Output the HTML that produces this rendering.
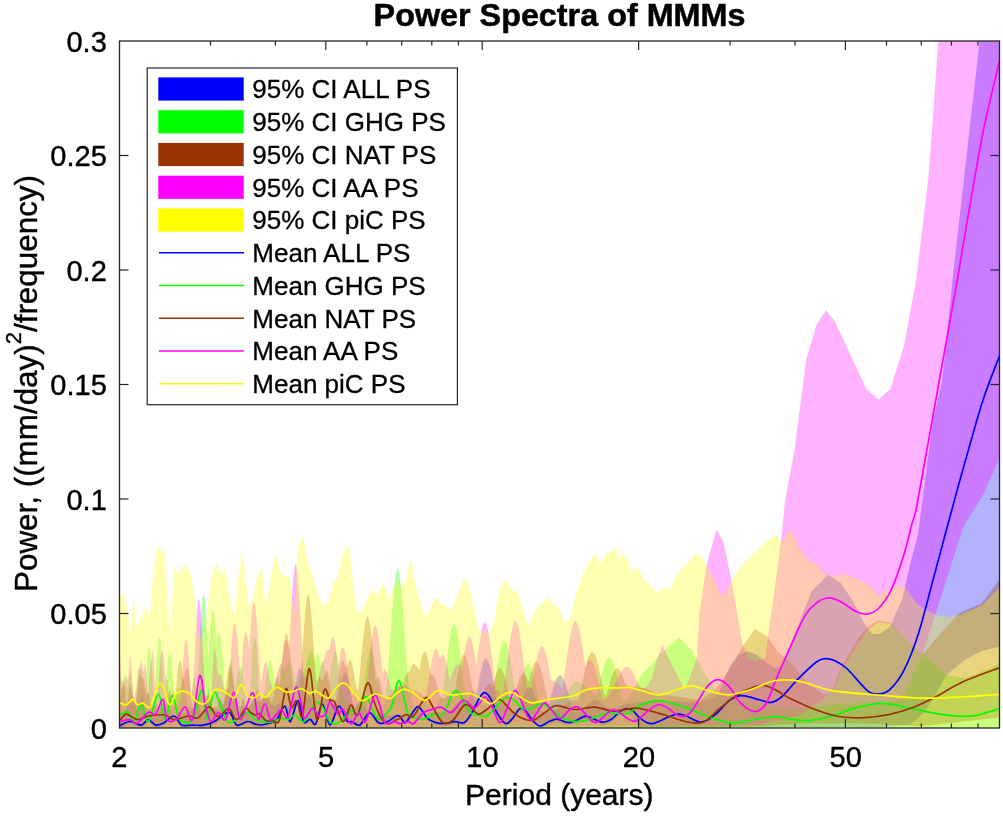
<!DOCTYPE html>
<html><head><meta charset="utf-8"><style>
html,body{margin:0;padding:0;background:#fff;width:1003px;height:816px;overflow:hidden}
svg{display:block;will-change:transform}
text{font-family:"Liberation Sans",sans-serif;fill:#000}
</style></head><body>
<svg width="1003" height="816" viewBox="0 0 1003 816">
<defs><clipPath id="c"><rect x="119.5" y="41" width="880.0" height="687"/></clipPath></defs>
<rect x="0" y="0" width="1003" height="816" fill="#fff"/>
<g clip-path="url(#c)">
<polygon fill="#0000ff" fill-opacity="0.3" points="119.5,711.8 120.5,715.4 121.5,715.6 122.5,714.4 123.5,713.4 124.5,711.2 125.5,709.0 126.5,709.0 127.5,704.6 128.5,699.2 129.5,699.4 130.5,703.5 131.5,705.6 132.5,703.8 133.5,701.2 134.5,700.4 135.5,705.1 136.5,710.7 137.5,708.7 138.5,701.9 139.5,699.5 140.5,699.7 141.5,696.2 142.5,693.9 143.5,698.4 144.5,705.7 145.5,711.5 146.5,714.5 147.5,714.5 148.5,712.2 149.5,709.6 150.5,711.1 151.5,713.5 152.5,710.8 153.5,704.9 154.5,703.1 155.5,706.1 156.5,710.6 157.5,714.3 158.5,714.8 159.5,710.4 160.5,705.4 161.5,706.0 162.5,708.5 163.5,708.3 164.5,707.3 165.5,708.6 166.5,710.5 167.5,710.3 168.5,709.1 169.5,709.2 170.5,711.2 171.5,713.4 172.5,714.4 173.5,715.4 174.5,716.9 175.5,717.7 176.5,717.0 177.5,714.6 178.5,711.6 179.5,711.2 180.5,713.2 181.5,714.6 182.5,714.6 183.5,714.6 184.5,714.7 185.5,713.1 186.5,709.7 187.5,707.1 188.5,707.7 189.5,710.0 190.5,711.0 191.5,709.6 192.5,707.7 193.5,707.3 194.5,708.4 195.5,709.3 196.5,708.2 197.5,705.3 198.5,703.6 199.5,705.9 200.5,710.6 201.5,713.8 202.5,714.9 203.5,714.6 204.5,712.4 205.5,707.5 206.5,699.9 207.5,692.4 208.5,689.8 209.5,694.6 210.5,702.7 211.5,707.1 212.5,707.5 213.5,707.4 214.5,708.6 215.5,709.7 216.5,708.9 217.5,706.5 218.5,703.0 219.5,699.4 220.5,697.9 221.5,700.4 222.5,704.0 223.5,704.5 224.5,701.7 225.5,697.5 226.5,693.5 227.5,690.8 228.5,690.6 229.5,693.7 230.5,698.9 231.5,702.8 232.5,702.6 233.5,699.1 234.5,696.1 235.5,696.3 236.5,699.8 237.5,703.5 238.5,705.3 239.5,706.0 240.5,706.2 241.5,705.5 242.5,704.7 243.5,705.8 244.5,709.0 245.5,712.0 246.5,713.2 247.5,712.8 248.5,711.1 249.5,708.1 250.5,704.2 251.5,701.0 252.5,699.5 253.5,699.6 254.5,700.5 255.5,701.1 256.5,701.1 257.5,701.1 258.5,701.4 259.5,701.9 260.5,701.9 261.5,700.7 262.5,698.8 263.5,697.4 264.5,697.2 265.5,697.9 266.5,698.4 267.5,698.9 268.5,700.2 269.5,702.1 270.5,703.9 271.5,705.1 272.5,705.8 273.5,706.1 274.5,706.3 275.5,706.1 276.5,705.3 277.5,704.0 278.5,703.1 279.5,703.3 280.5,704.8 281.5,706.8 282.5,708.3 283.5,709.1 284.5,709.0 285.5,708.1 286.5,706.7 287.5,705.3 288.5,704.8 289.5,705.3 290.5,706.1 291.5,706.4 292.5,705.2 293.5,699.0 294.5,692.4 295.5,685.7 296.5,679.4 297.5,674.1 298.5,670.3 299.5,668.3 300.5,668.3 301.5,670.3 302.5,674.1 303.5,679.4 304.5,685.7 305.5,692.4 306.5,697.2 307.5,695.5 308.5,695.0 309.5,695.5 310.5,697.0 311.5,699.3 312.5,702.3 313.5,705.5 314.5,708.2 315.5,710.2 316.5,711.3 317.5,711.7 318.5,711.9 319.5,712.0 320.5,711.7 321.5,710.3 322.5,707.1 323.5,702.6 324.5,697.9 325.5,694.4 326.5,692.9 327.5,693.6 328.5,695.9 329.5,699.0 330.5,701.9 331.5,703.7 332.5,704.6 333.5,704.9 334.5,704.9 335.5,705.2 336.5,705.7 337.5,702.2 338.5,696.7 339.5,691.1 340.5,685.6 341.5,680.7 342.5,676.6 343.5,673.7 344.5,672.2 345.5,672.2 346.5,673.7 347.5,676.6 348.5,680.7 349.5,685.6 350.5,691.1 351.5,696.7 352.5,702.2 353.5,707.3 354.5,709.1 355.5,708.3 356.5,707.1 357.5,705.2 358.5,702.7 359.5,700.2 360.5,698.0 361.5,696.9 362.5,697.1 363.5,698.7 364.5,701.5 365.5,705.1 366.5,708.7 367.5,711.9 368.5,714.3 369.5,715.8 370.5,716.7 371.5,717.1 372.5,717.1 373.5,717.0 374.5,716.7 375.5,716.4 376.5,715.9 377.5,715.3 378.5,714.6 379.5,713.8 380.5,713.1 381.5,712.7 382.5,712.7 383.5,713.1 384.5,713.8 385.5,714.4 386.5,715.0 387.5,715.4 388.5,715.7 389.5,715.8 390.5,715.8 391.5,715.6 392.5,715.4 393.5,715.0 394.5,714.6 395.5,714.2 396.5,713.8 397.5,713.7 398.5,713.7 399.5,713.9 400.5,714.1 401.5,714.3 402.5,714.4 403.5,714.3 404.5,714.0 405.5,713.6 406.5,713.2 407.5,712.8 408.5,712.8 409.5,713.0 410.5,713.5 411.5,714.2 412.5,714.9 413.5,715.6 414.5,716.1 415.5,716.5 416.5,716.7 417.5,716.8 418.5,716.9 419.5,716.8 420.5,716.7 421.5,716.5 422.5,716.1 423.5,715.7 424.5,715.3 425.5,714.8 426.5,714.3 427.5,713.9 428.5,713.5 429.5,713.1 430.5,712.7 431.5,712.4 432.5,712.2 433.5,712.0 434.5,711.9 435.5,711.9 436.5,712.0 437.5,712.1 438.5,712.2 439.5,712.2 440.5,712.2 441.5,712.2 442.5,712.1 443.5,711.9 444.5,711.8 445.5,711.7 446.5,711.6 447.5,711.4 448.5,711.2 449.5,710.9 450.5,710.4 451.5,709.6 452.5,708.6 453.5,707.3 454.5,705.8 455.5,704.3 456.5,702.9 457.5,701.8 458.5,701.1 459.5,700.9 460.5,701.0 461.5,701.3 462.5,701.7 463.5,702.0 464.5,702.0 465.5,701.6 466.5,700.7 467.5,699.3 468.5,697.6 469.5,695.7 470.5,693.8 471.5,692.3 472.5,691.3 473.5,691.0 474.5,691.6 475.5,692.9 476.5,693.6 477.5,688.4 478.5,683.2 479.5,678.0 480.5,673.1 481.5,668.7 482.5,664.9 483.5,661.9 484.5,659.8 485.5,658.7 486.5,658.7 487.5,659.8 488.5,661.9 489.5,664.9 490.5,668.7 491.5,673.1 492.5,678.0 493.5,683.2 494.5,688.4 495.5,693.6 496.5,698.6 497.5,703.2 498.5,704.6 499.5,703.6 500.5,703.0 501.5,702.7 502.5,702.8 503.5,703.4 504.5,704.3 505.5,705.5 506.5,706.9 507.5,708.4 508.5,709.7 509.5,710.9 510.5,711.9 511.5,712.5 512.5,712.9 513.5,712.9 514.5,712.6 515.5,712.1 516.5,711.2 517.5,709.9 518.5,708.4 519.5,706.5 520.5,704.2 521.5,701.7 522.5,699.0 523.5,696.2 524.5,693.5 525.5,691.1 526.5,689.2 527.5,687.7 528.5,686.9 529.5,686.7 530.5,687.2 531.5,688.3 532.5,690.0 533.5,692.3 534.5,694.9 535.5,697.7 536.5,700.5 537.5,703.2 538.5,705.6 539.5,707.7 540.5,709.4 541.5,710.7 542.5,711.6 543.5,712.3 544.5,712.7 545.5,712.9 546.5,710.5 547.5,707.5 548.5,704.3 549.5,700.9 550.5,697.4 551.5,693.9 552.5,690.4 553.5,687.0 554.5,683.9 555.5,681.1 556.5,678.8 557.5,677.0 558.5,675.7 559.5,675.1 560.5,675.1 561.5,675.7 562.5,677.0 563.5,678.8 564.5,681.1 565.5,683.9 566.5,687.0 567.5,690.4 568.5,693.9 569.5,697.4 570.5,700.9 571.5,704.3 572.5,707.5 573.5,710.5 574.5,712.8 575.5,712.7 576.5,712.5 577.5,712.3 578.5,712.0 579.5,711.5 580.5,711.0 581.5,710.3 582.5,709.6 583.5,708.7 584.5,707.8 585.5,706.8 586.5,705.7 587.5,704.7 588.5,703.6 589.5,702.7 590.5,701.9 591.5,701.2 592.5,700.6 593.5,700.3 594.5,700.1 595.5,700.1 596.5,700.3 597.5,700.7 598.5,701.3 599.5,701.9 600.5,702.6 601.5,703.4 602.5,704.2 603.5,705.0 604.5,705.8 605.5,706.4 606.5,707.0 607.5,707.5 608.5,707.9 609.5,708.2 610.5,708.4 611.5,708.4 612.5,708.4 613.5,708.2 614.5,708.0 615.5,707.7 616.5,707.3 617.5,707.0 618.5,706.6 619.5,706.2 620.5,705.8 621.5,705.4 622.5,705.1 623.5,704.8 624.5,704.5 625.5,704.3 626.5,704.1 627.5,703.9 628.5,703.8 629.5,703.7 630.5,703.5 631.5,703.4 632.5,703.3 633.5,703.1 634.5,703.0 635.5,702.8 636.5,702.6 637.5,702.5 638.5,702.3 639.5,702.1 640.5,702.0 641.5,701.9 642.5,701.9 643.5,701.9 644.5,701.9 645.5,701.9 646.5,702.0 647.5,702.0 648.5,701.9 649.5,701.9 650.5,701.8 651.5,701.7 652.5,701.5 653.5,701.4 654.5,701.2 655.5,701.0 656.5,700.9 657.5,700.8 658.5,700.7 659.5,700.7 660.0,700.7 700.0,702.0 715.0,697.0 720.0,690.0 729.3,667.0 738.0,655.0 746.9,651.0 757.0,655.0 767.6,663.8 776.0,668.0 783.5,665.0 790.8,643.0 801.0,618.0 811.7,591.0 828.3,574.6 840.8,583.0 853.3,601.7 863.8,622.5 872.0,634.0 880.0,634.0 890.0,627.0 895.0,615.0 902.0,600.0 906.6,580.0 910.0,565.0 918.0,534.0 933.0,420.0 942.0,383.0 952.5,280.0 979.6,41.0 1000.0,-150.0 999.5,646.5 981.5,651.2 965.6,659.2 946.5,675.1 938.0,690.0 925.0,712.0 910.0,725.0 880.0,727.0 700.0,727.0 640.0,727.0 626.9,711.5 620.0,714.5 611.5,722.2 602.9,725.2 594.3,722.2 585.7,719.2 577.2,723.0 568.6,725.6 560.0,723.0 555.5,722.2 548.6,724.7 540.0,728.5 531.5,722.2 525.5,713.6 519.5,711.9 512.6,721.3 505.7,726.5 497.2,716.2 491.1,702.5 485.1,695.6 480.0,700.0 471.2,717.0 464.3,725.6 454.9,724.7 444.6,726.5 436.0,725.6 427.4,721.3 421.4,712.7 417.2,709.7 411.1,717.9 405.1,725.6 400.0,719.6 396.2,719.0 387.4,724.7 378.6,725.8 369.7,715.8 359.8,728.0 352.1,724.7 346.6,723.6 338.8,709.2 330.0,728.0 322.3,707.0 315.7,726.9 310.2,722.4 303.6,724.7 298.0,703.7 290.3,724.7 284.8,709.2 277.1,722.4 270.4,725.8 261.6,728.0 255.0,726.9 247.6,724.5 236.6,728.1 229.2,715.3 214.5,724.5 203.5,728.1 192.5,728.1 181.5,728.1 174.1,719.0 163.1,726.3 155.7,728.1 148.4,722.6 141.0,728.1 130.0,724.5 120.8,728.1 119.5,728.0"/>
<polygon fill="#00ff00" fill-opacity="0.3" points="119.5,676.4 120.5,677.9 121.5,687.7 122.5,691.6 123.5,681.9 124.5,672.1 125.5,675.0 126.5,686.1 127.5,689.8 128.5,680.1 129.5,674.5 130.5,674.5 131.5,677.1 132.5,685.7 133.5,700.0 134.5,706.2 135.5,705.7 136.5,697.4 137.5,684.6 138.5,675.0 139.5,668.1 140.5,669.0 141.5,669.0 142.5,674.7 143.5,684.4 144.5,694.3 145.5,686.5 146.5,671.4 147.5,657.7 148.5,648.5 149.5,646.3 150.5,651.5 151.5,662.8 152.5,677.5 153.5,692.3 154.5,695.8 155.5,680.9 156.5,664.8 157.5,650.2 158.5,640.1 159.5,637.0 160.5,641.6 161.5,652.8 162.5,668.0 163.5,684.0 164.5,696.0 165.5,687.6 166.5,674.6 167.5,662.9 168.5,654.6 169.5,651.6 170.5,654.6 171.5,662.9 172.5,674.6 173.5,687.6 174.5,699.8 175.5,699.5 176.5,695.2 177.5,689.9 178.5,686.9 179.5,689.0 180.5,689.6 181.5,683.4 182.5,677.3 183.5,678.1 184.5,684.5 185.5,692.5 186.5,699.0 187.5,703.4 188.5,706.4 189.5,707.9 190.5,706.5 191.5,699.3 192.5,686.9 193.5,677.4 194.5,677.2 195.5,683.9 196.5,690.2 197.5,683.6 198.5,665.6 199.5,645.6 200.5,625.7 201.5,608.6 202.5,597.0 203.5,592.9 204.5,597.0 205.5,608.6 206.5,625.7 207.5,645.6 208.5,656.9 209.5,639.9 210.5,624.9 211.5,614.2 212.5,609.5 213.5,611.6 214.5,620.0 215.5,633.5 216.5,647.9 217.5,638.0 218.5,632.4 219.5,631.8 220.5,636.5 221.5,645.7 222.5,657.9 223.5,671.6 224.5,685.0 225.5,697.0 226.5,695.2 227.5,685.9 228.5,676.3 229.5,668.3 230.5,661.3 231.5,658.7 232.5,664.2 233.5,678.1 234.5,693.1 235.5,689.5 236.5,681.2 237.5,673.9 238.5,668.3 239.5,665.4 240.5,665.4 241.5,668.3 242.5,673.9 243.5,681.2 244.5,689.5 245.5,697.8 246.5,705.4 247.5,708.1 248.5,705.5 249.5,700.7 250.5,689.3 251.5,667.4 252.5,646.4 253.5,638.7 254.5,637.4 255.5,638.1 256.5,644.2 257.5,663.5 258.5,683.4 259.5,693.0 260.5,697.9 261.5,702.0 262.5,705.3 263.5,699.1 264.5,691.2 265.5,682.9 266.5,675.0 267.5,668.1 268.5,663.0 269.5,660.3 270.5,660.3 271.5,663.0 272.5,668.1 273.5,675.0 274.5,682.9 275.5,687.0 276.5,682.8 277.5,679.5 278.5,676.1 279.5,671.4 280.5,666.5 281.5,664.1 282.5,665.2 283.5,668.5 284.5,671.2 285.5,671.3 286.5,668.9 287.5,665.6 288.5,663.2 289.5,662.5 290.5,663.3 291.5,664.9 292.5,667.7 293.5,672.1 294.5,677.7 295.5,682.5 296.5,684.6 297.5,683.8 298.5,681.6 299.5,679.2 300.5,677.4 301.5,676.0 302.5,674.6 303.5,672.6 304.5,669.8 305.5,666.6 306.5,663.3 307.5,659.9 308.5,656.4 309.5,653.1 310.5,650.9 311.5,650.5 312.5,652.7 313.5,658.3 314.5,661.9 315.5,657.1 316.5,654.4 317.5,653.9 318.5,655.8 319.5,659.7 320.5,665.5 321.5,661.8 322.5,661.0 323.5,663.5 324.5,667.8 325.5,672.4 326.5,676.3 327.5,680.0 328.5,684.0 329.5,680.0 330.5,672.2 331.5,665.1 332.5,659.0 333.5,654.4 334.5,651.8 335.5,651.4 336.5,653.1 337.5,656.9 338.5,662.5 339.5,669.3 340.5,676.9 341.5,684.7 342.5,692.5 343.5,699.3 344.5,697.9 345.5,697.4 346.5,698.4 347.5,700.7 348.5,703.6 349.5,706.3 350.5,708.1 351.5,708.9 352.5,708.6 353.5,707.5 354.5,706.0 355.5,704.6 356.5,703.7 357.5,703.3 358.5,703.1 359.5,702.7 360.5,701.5 361.5,698.9 362.5,694.6 363.5,688.7 364.5,681.5 365.5,673.7 366.5,666.0 367.5,659.1 368.5,653.8 369.5,650.4 370.5,649.0 371.5,649.6 372.5,652.1 373.5,656.5 374.5,662.1 375.5,668.1 376.5,673.9 377.5,679.4 378.5,685.0 379.5,690.8 380.5,696.4 381.5,701.0 382.5,704.1 383.5,705.5 384.5,703.4 385.5,695.6 386.5,686.2 387.5,675.3 388.5,663.1 389.5,649.7 390.5,635.5 391.5,621.2 392.5,607.3 393.5,594.6 394.5,583.7 395.5,575.2 396.5,569.8 397.5,567.7 398.5,569.1 399.5,573.9 400.5,581.8 401.5,592.2 402.5,604.7 403.5,618.4 404.5,632.7 405.5,646.9 406.5,660.5 407.5,673.0 408.5,684.2 409.5,690.3 410.5,694.0 411.5,698.2 412.5,702.1 413.5,705.1 414.5,707.0 415.5,707.7 416.5,707.6 417.5,706.6 418.5,705.1 419.5,703.1 420.5,700.9 421.5,698.7 422.5,696.8 423.5,695.6 424.5,695.2 425.5,695.9 426.5,697.5 427.5,699.8 428.5,702.3 429.5,704.8 430.5,706.8 431.5,708.2 432.5,708.8 433.5,708.7 434.5,707.9 435.5,706.5 436.5,704.7 437.5,702.7 438.5,700.8 439.5,699.1 440.5,697.6 441.5,696.4 442.5,695.1 443.5,688.2 444.5,680.6 445.5,672.5 446.5,664.2 447.5,655.9 448.5,647.9 449.5,640.6 450.5,634.3 451.5,629.2 452.5,625.7 453.5,623.9 454.5,623.9 455.5,625.7 456.5,629.2 457.5,634.3 458.5,640.6 459.5,647.9 460.5,655.9 461.5,664.2 462.5,672.5 463.5,680.6 464.5,686.8 465.5,691.3 466.5,695.1 467.5,698.2 468.5,700.5 469.5,701.9 470.5,702.7 471.5,703.0 472.5,702.9 473.5,702.5 474.5,702.1 475.5,701.7 476.5,701.4 477.5,701.3 478.5,701.2 479.5,701.3 480.5,701.4 481.5,701.4 482.5,701.3 483.5,701.0 484.5,700.5 485.5,699.7 486.5,698.8 487.5,697.6 488.5,696.4 489.5,695.0 490.5,693.8 491.5,692.6 492.5,691.8 493.5,690.1 494.5,684.0 495.5,677.6 496.5,671.2 497.5,664.9 498.5,659.0 499.5,653.5 500.5,648.8 501.5,645.0 502.5,642.3 503.5,640.8 504.5,640.6 505.5,641.6 506.5,643.8 507.5,647.2 508.5,651.5 509.5,656.7 510.5,662.5 511.5,668.7 512.5,675.1 513.5,681.5 514.5,687.7 515.5,693.6 516.5,698.3 517.5,697.6 518.5,693.2 519.5,688.7 520.5,684.2 521.5,679.9 522.5,675.8 523.5,672.2 524.5,669.1 525.5,666.6 526.5,665.0 527.5,664.1 528.5,664.1 529.5,665.0 530.5,666.6 531.5,669.1 532.5,672.2 533.5,675.8 534.5,679.9 535.5,684.2 536.5,688.7 537.5,693.2 538.5,697.6 539.5,701.8 540.5,703.0 541.5,703.8 542.5,704.5 543.5,705.0 544.5,705.2 545.5,705.3 546.5,705.2 547.5,704.9 548.5,704.5 549.5,704.0 550.5,703.4 551.5,702.7 552.5,702.0 553.5,701.2 554.5,700.5 555.5,699.9 556.5,699.2 557.5,698.6 558.5,698.0 559.5,697.5 560.5,696.9 561.5,696.3 562.5,695.7 563.5,695.0 564.5,694.1 565.5,693.2 566.5,692.1 567.5,690.9 568.5,689.6 569.5,688.2 570.5,686.9 571.5,685.6 572.5,684.4 573.5,683.4 574.5,682.6 575.5,682.0 576.5,681.6 577.5,681.5 578.5,681.6 579.5,682.0 580.5,682.5 581.5,683.1 582.5,683.9 583.5,684.7 584.5,685.5 585.5,686.3 586.5,687.1 587.5,687.9 588.5,688.6 589.5,689.4 590.5,690.2 591.5,691.0 592.5,691.8 593.5,692.7 594.5,693.6 595.5,694.6 596.5,695.7 597.5,692.6 598.5,688.3 599.5,683.9 600.5,679.6 601.5,675.3 602.5,671.3 603.5,667.6 604.5,664.3 605.5,661.6 606.5,659.5 607.5,658.0 608.5,657.3 609.5,657.3 610.5,658.0 611.5,659.5 612.5,661.6 613.5,664.3 614.5,667.6 615.5,671.3 616.5,675.3 617.5,679.6 618.5,683.9 619.5,688.3 620.5,692.6 621.5,696.8 622.5,700.8 623.5,701.1 624.5,700.4 625.5,699.7 626.5,698.8 627.5,697.9 628.5,696.9 629.5,695.7 630.5,694.5 631.5,693.0 632.5,691.3 633.5,689.4 634.5,687.5 635.5,685.5 636.5,683.5 637.5,681.5 638.5,679.7 639.5,678.1 640.5,676.5 641.5,675.1 642.5,673.7 643.5,672.5 644.5,671.4 645.5,670.4 646.5,669.5 647.5,668.5 648.5,667.5 649.5,666.4 650.5,665.5 651.5,664.4 652.5,663.3 653.5,662.1 654.5,660.9 655.5,659.6 656.5,658.3 657.5,657.0 658.5,655.8 659.5,654.8 660.0,654.3 668.7,646.3 679.0,637.5 692.6,651.0 703.8,671.8 715.0,689.3 730.0,700.0 760.0,705.0 800.0,708.0 840.0,704.0 880.0,702.0 901.9,700.0 915.0,670.0 922.6,654.4 935.0,665.0 946.5,675.1 965.6,678.3 999.5,664.0 999.5,728.5 119.5,728.5"/>
<polygon fill="#993300" fill-opacity="0.3" points="119.5,704.1 120.5,696.8 121.5,688.5 122.5,682.6 123.5,678.9 124.5,681.9 125.5,695.2 126.5,703.5 127.5,702.7 128.5,696.5 129.5,686.9 130.5,684.5 131.5,690.5 132.5,694.7 133.5,698.1 134.5,701.7 135.5,704.7 136.5,699.7 137.5,689.5 138.5,680.8 139.5,675.7 140.5,674.6 141.5,677.6 142.5,678.3 143.5,677.8 144.5,681.3 145.5,690.0 146.5,695.2 147.5,693.4 148.5,692.7 149.5,697.3 150.5,704.5 151.5,709.7 152.5,712.0 153.5,712.0 154.5,709.6 155.5,705.5 156.5,704.1 157.5,707.4 158.5,709.3 159.5,708.9 160.5,708.4 161.5,706.2 162.5,702.4 163.5,702.0 164.5,706.4 165.5,708.4 166.5,703.9 167.5,697.6 168.5,694.1 169.5,690.1 170.5,690.2 171.5,697.9 172.5,705.0 173.5,708.0 174.5,705.6 175.5,695.7 176.5,684.6 177.5,673.9 178.5,665.4 179.5,660.6 180.5,660.6 181.5,665.4 182.5,673.9 183.5,680.4 184.5,674.6 185.5,671.5 186.5,668.9 187.5,667.3 188.5,670.2 189.5,680.2 190.5,694.2 191.5,704.5 192.5,708.6 193.5,708.7 194.5,706.5 195.5,703.3 196.5,701.0 197.5,699.7 198.5,695.7 199.5,687.2 200.5,682.0 201.5,686.2 202.5,695.6 203.5,702.3 204.5,704.4 205.5,702.7 206.5,699.2 207.5,696.9 208.5,696.1 209.5,695.6 210.5,697.1 211.5,701.9 212.5,706.9 213.5,708.5 214.5,707.0 215.5,705.9 216.5,708.2 217.5,711.7 218.5,713.6 219.5,713.5 220.5,711.3 221.5,707.1 222.5,703.9 223.5,704.8 224.5,699.2 225.5,690.7 226.5,682.1 227.5,674.4 228.5,668.6 229.5,665.4 230.5,665.4 231.5,668.6 232.5,674.4 233.5,682.1 234.5,690.7 235.5,699.2 236.5,706.9 237.5,711.4 238.5,712.6 239.5,712.1 240.5,709.3 241.5,703.7 242.5,698.2 243.5,697.4 244.5,702.0 245.5,707.1 246.5,709.5 247.5,709.1 248.5,707.3 249.5,705.4 250.5,704.3 251.5,704.3 252.5,704.4 253.5,702.6 254.5,698.6 255.5,693.9 256.5,690.5 257.5,689.4 258.5,690.9 259.5,694.3 260.5,698.0 261.5,699.8 262.5,699.3 263.5,697.8 264.5,696.9 265.5,697.1 266.5,697.6 267.5,697.4 268.5,696.9 269.5,697.0 270.5,698.7 271.5,700.9 272.5,701.1 273.5,697.2 274.5,689.4 275.5,681.1 276.5,676.5 277.5,677.0 278.5,681.7 279.5,687.8 280.5,677.2 281.5,666.2 282.5,655.5 283.5,646.1 284.5,638.8 285.5,634.4 286.5,633.4 287.5,635.8 288.5,641.4 289.5,649.7 290.5,659.7 291.5,670.6 292.5,681.5 293.5,691.8 294.5,700.8 295.5,708.3 296.5,711.5 297.5,707.8 298.5,699.8 299.5,689.7 300.5,677.9 301.5,664.4 302.5,650.0 303.5,635.4 304.5,621.6 305.5,609.7 306.5,600.8 307.5,595.7 308.5,594.8 309.5,598.3 310.5,605.8 311.5,616.5 312.5,629.7 313.5,644.1 314.5,658.7 315.5,672.6 316.5,684.5 317.5,680.2 318.5,677.9 319.5,677.5 320.5,678.4 321.5,679.7 322.5,680.3 323.5,678.9 324.5,675.7 325.5,672.0 326.5,669.7 327.5,670.3 328.5,674.7 329.5,682.5 330.5,691.5 331.5,698.7 332.5,702.6 333.5,703.7 334.5,702.4 335.5,699.3 336.5,694.3 337.5,687.5 338.5,679.6 339.5,671.9 340.5,665.9 341.5,662.4 342.5,661.1 343.5,661.7 344.5,663.6 345.5,666.2 346.5,668.6 347.5,665.5 348.5,662.0 349.5,660.2 350.5,660.2 351.5,662.0 352.5,665.5 353.5,670.3 354.5,676.2 355.5,682.7 356.5,687.4 357.5,691.6 358.5,686.4 359.5,676.7 360.5,666.3 361.5,655.7 362.5,645.3 363.5,635.7 364.5,627.6 365.5,621.4 366.5,617.6 367.5,616.5 368.5,618.2 369.5,622.4 370.5,629.1 371.5,637.5 372.5,647.3 373.5,657.8 374.5,668.4 375.5,678.7 376.5,681.7 377.5,678.3 378.5,677.3 379.5,679.1 380.5,683.1 381.5,688.2 382.5,693.1 383.5,696.6 384.5,698.4 385.5,698.8 386.5,698.3 387.5,697.4 388.5,696.4 389.5,695.5 390.5,694.9 391.5,694.3 392.5,693.4 393.5,692.3 394.5,690.9 395.5,689.4 396.5,687.9 397.5,686.8 398.5,686.0 399.5,685.8 400.5,685.9 401.5,686.1 402.5,686.4 403.5,683.2 404.5,679.3 405.5,676.1 406.5,673.9 407.5,672.7 408.5,672.7 409.5,671.8 410.5,668.5 411.5,666.0 412.5,664.4 413.5,663.8 414.5,664.1 415.5,664.9 416.5,666.2 417.5,667.6 418.5,668.9 419.5,669.3 420.5,663.7 421.5,658.9 422.5,655.1 423.5,652.7 424.5,651.6 425.5,652.1 426.5,654.0 427.5,657.2 428.5,661.7 429.5,667.0 430.5,673.0 431.5,674.8 432.5,675.0 433.5,675.9 434.5,677.5 435.5,680.0 436.5,683.2 437.5,687.0 438.5,690.8 439.5,694.1 440.5,696.6 441.5,698.1 442.5,698.8 443.5,698.8 444.5,698.2 445.5,697.5 446.5,696.7 447.5,696.1 448.5,695.9 449.5,696.1 450.5,696.7 451.5,697.5 452.5,698.5 453.5,697.9 454.5,692.5 455.5,686.8 456.5,681.0 457.5,675.3 458.5,669.9 459.5,665.0 460.5,660.9 461.5,657.6 462.5,655.4 463.5,654.5 464.5,654.7 465.5,656.2 466.5,658.8 467.5,662.4 468.5,666.9 469.5,672.0 470.5,677.6 471.5,683.3 472.5,689.1 473.5,694.7 474.5,699.9 475.5,704.8 476.5,708.0 477.5,706.8 478.5,705.1 479.5,702.9 480.5,700.4 481.5,697.6 482.5,694.7 483.5,692.0 484.5,689.5 485.5,687.5 486.5,686.0 487.5,685.0 488.5,684.4 489.5,684.2 490.5,684.4 491.5,684.9 492.5,685.6 493.5,684.1 494.5,680.0 495.5,676.4 496.5,673.2 497.5,670.7 498.5,669.0 499.5,668.1 500.5,668.1 501.5,669.0 502.5,670.7 503.5,673.2 504.5,676.4 505.5,680.0 506.5,684.1 507.5,688.4 508.5,692.9 509.5,697.2 510.5,701.5 511.5,701.8 512.5,699.7 513.5,697.1 514.5,694.1 515.5,690.8 516.5,687.4 517.5,683.9 518.5,680.8 519.5,678.0 520.5,675.9 521.5,674.4 522.5,673.6 523.5,673.5 524.5,674.0 525.5,675.2 526.5,677.1 527.5,679.4 528.5,682.1 529.5,678.8 530.5,674.6 531.5,670.7 532.5,667.4 533.5,664.7 534.5,662.8 535.5,661.7 536.5,661.4 537.5,662.0 538.5,663.5 539.5,665.7 540.5,668.7 541.5,672.2 542.5,676.2 543.5,680.6 544.5,685.2 545.5,689.8 546.5,694.3 547.5,698.8 548.5,702.9 549.5,706.8 550.5,710.3 551.5,711.9 552.5,711.5 553.5,711.0 554.5,710.4 555.5,709.8 556.5,709.1 557.5,708.5 558.5,707.8 559.5,707.2 560.5,706.6 561.5,705.9 562.5,705.3 563.5,704.7 564.5,704.2 565.5,703.6 566.5,703.0 567.5,702.4 568.5,701.9 569.5,701.4 570.5,700.9 571.5,700.5 572.5,700.2 573.5,700.0 574.5,700.0 575.5,700.0 576.5,700.3 577.5,700.6 578.5,700.9 579.5,696.6 580.5,692.1 581.5,687.4 582.5,682.5 583.5,677.7 584.5,672.9 585.5,668.4 586.5,664.1 587.5,660.4 588.5,657.2 589.5,654.6 590.5,652.8 591.5,651.8 592.5,651.6 593.5,652.3 594.5,653.8 595.5,656.1 596.5,659.0 597.5,662.6 598.5,666.6 599.5,671.1 600.5,675.8 601.5,680.6 602.5,685.4 603.5,690.2 604.5,694.8 605.5,695.4 606.5,693.6 607.5,691.6 608.5,687.9 609.5,684.4 610.5,681.0 611.5,677.8 612.5,675.0 613.5,672.7 614.5,670.7 615.5,669.4 616.5,668.6 617.5,668.4 618.5,668.8 619.5,669.9 620.5,671.4 621.5,673.6 622.5,676.1 623.5,679.1 624.5,682.3 625.5,684.4 626.5,684.9 627.5,685.4 628.5,685.8 629.5,686.2 630.5,686.5 631.5,686.8 632.5,687.0 633.5,687.1 634.5,687.2 635.5,687.2 636.5,687.3 637.5,687.3 638.5,687.3 639.5,687.3 640.5,687.4 641.5,687.5 642.5,687.7 643.5,687.9 644.5,688.2 645.5,688.6 646.5,689.0 647.5,689.5 648.5,690.0 649.5,690.5 650.5,691.0 651.5,691.6 652.5,692.1 653.5,692.5 654.5,692.9 655.5,693.3 656.5,693.6 657.5,693.8 658.5,694.0 659.5,694.2 660.0,694.3 700.0,700.0 715.0,690.0 729.3,670.2 742.0,647.8 754.8,628.7 767.6,636.7 777.2,651.0 790.0,662.0 796.4,669.0 810.5,686.0 824.6,694.5 830.4,693.3 843.0,664.0 857.5,639.0 868.0,626.7 878.3,620.4 890.0,622.6 905.0,638.0 922.6,654.4 940.0,634.0 959.2,613.0 981.5,603.5 999.5,579.6 999.5,717.5 920.0,726.5 900.0,725.0 850.0,723.0 800.0,723.5 760.0,726.0 700.0,728.5 119.5,728.5"/>
<polygon fill="#ff00ff" fill-opacity="0.3" points="119.5,653.1 120.5,665.2 121.5,681.2 122.5,683.3 123.5,687.8 124.5,684.5 125.5,677.4 126.5,675.6 127.5,679.7 128.5,674.4 129.5,660.6 130.5,654.1 131.5,666.6 132.5,687.0 133.5,697.3 134.5,696.7 135.5,693.2 136.5,686.6 137.5,674.7 138.5,667.9 139.5,667.9 140.5,661.9 141.5,659.3 142.5,668.0 143.5,672.4 144.5,665.2 145.5,663.6 146.5,677.5 147.5,695.2 148.5,688.7 149.5,676.3 150.5,665.8 151.5,659.3 152.5,648.6 153.5,657.8 154.5,676.0 155.5,688.7 156.5,696.4 157.5,697.3 158.5,684.2 159.5,670.5 160.5,658.8 161.5,651.4 162.5,650.1 163.5,655.2 164.5,665.5 165.5,678.6 166.5,678.8 167.5,681.3 168.5,693.6 169.5,703.6 170.5,706.2 171.5,702.3 172.5,693.7 173.5,690.6 174.5,696.1 175.5,701.8 176.5,704.6 177.5,704.1 178.5,701.8 179.5,702.0 180.5,697.1 181.5,684.2 182.5,670.0 183.5,656.4 184.5,645.6 185.5,639.6 186.5,639.6 187.5,645.6 188.5,656.4 189.5,670.0 190.5,684.2 191.5,694.5 192.5,686.8 193.5,676.9 194.5,658.1 195.5,638.4 196.5,620.2 197.5,606.3 198.5,599.1 199.5,599.9 200.5,608.6 201.5,623.5 202.5,642.3 203.5,662.0 204.5,680.4 205.5,695.7 206.5,695.4 207.5,695.6 208.5,699.8 209.5,703.0 210.5,701.3 211.5,691.8 212.5,673.1 213.5,655.1 214.5,648.4 215.5,651.2 216.5,659.4 217.5,668.9 218.5,675.1 219.5,675.4 220.5,673.3 221.5,675.4 222.5,681.6 223.5,687.1 224.5,689.7 225.5,690.4 226.5,690.6 227.5,690.5 228.5,687.7 229.5,674.4 230.5,660.1 231.5,646.2 232.5,634.4 233.5,626.0 234.5,622.4 235.5,624.0 236.5,630.6 237.5,641.2 238.5,654.4 239.5,668.7 240.5,677.9 241.5,665.3 242.5,653.1 243.5,642.7 244.5,635.1 245.5,631.6 246.5,632.5 247.5,637.7 248.5,646.6 249.5,647.7 250.5,632.1 251.5,618.4 252.5,608.2 253.5,602.7 254.5,602.7 255.5,608.2 256.5,618.4 257.5,632.1 258.5,647.7 259.5,663.8 260.5,678.8 261.5,682.0 262.5,674.3 263.5,668.0 264.5,663.6 265.5,661.7 266.5,662.5 267.5,665.9 268.5,671.6 269.5,678.8 270.5,682.0 271.5,685.0 272.5,688.6 273.5,689.1 274.5,686.0 275.5,680.9 276.5,675.9 277.5,671.8 278.5,668.5 279.5,665.8 280.5,663.9 281.5,663.9 282.5,660.7 283.5,651.9 284.5,645.1 285.5,641.0 286.5,640.1 287.5,642.3 288.5,647.5 289.5,642.8 290.5,624.2 291.5,605.9 292.5,589.4 293.5,576.1 294.5,567.3 295.5,563.8 296.5,566.1 297.5,573.9 298.5,586.4 299.5,602.4 300.5,620.5 301.5,639.1 302.5,657.1 303.5,673.3 304.5,676.8 305.5,676.5 306.5,675.7 307.5,675.6 308.5,677.6 309.5,681.7 310.5,687.1 311.5,691.9 312.5,695.2 313.5,696.8 314.5,696.8 315.5,694.8 316.5,690.6 317.5,684.3 318.5,677.6 319.5,672.2 320.5,668.8 321.5,666.5 322.5,664.1 323.5,660.9 324.5,656.8 325.5,652.9 326.5,650.2 327.5,649.4 328.5,650.0 329.5,649.6 330.5,643.2 331.5,638.9 332.5,637.1 333.5,637.8 334.5,641.2 335.5,646.8 336.5,654.3 337.5,663.0 338.5,666.4 339.5,659.4 340.5,653.6 341.5,649.6 342.5,647.6 343.5,647.8 344.5,650.2 345.5,654.6 346.5,660.7 347.5,668.0 348.5,675.9 349.5,684.0 350.5,691.9 351.5,695.0 352.5,695.1 353.5,694.5 354.5,694.4 355.5,695.4 356.5,697.6 357.5,700.1 358.5,702.4 359.5,704.2 360.5,705.6 361.5,706.6 362.5,707.5 363.5,708.0 364.5,702.7 365.5,695.6 366.5,687.6 367.5,678.6 368.5,669.2 369.5,659.6 370.5,650.3 371.5,641.8 372.5,634.7 373.5,629.4 374.5,626.3 375.5,625.5 376.5,627.3 377.5,631.3 378.5,637.4 379.5,645.1 380.5,653.9 381.5,663.4 382.5,673.0 383.5,671.0 384.5,669.1 385.5,669.0 386.5,671.0 387.5,674.5 388.5,678.9 389.5,683.2 390.5,686.7 391.5,689.0 392.5,690.2 393.5,690.3 394.5,689.9 395.5,689.2 396.5,688.4 397.5,687.8 398.5,687.4 399.5,687.0 400.5,686.5 401.5,686.0 402.5,685.4 403.5,684.9 404.5,684.8 405.5,685.1 406.5,685.8 407.5,686.7 408.5,687.6 409.5,688.5 410.5,689.2 411.5,689.6 412.5,689.9 413.5,690.2 414.5,690.4 415.5,690.6 416.5,690.9 417.5,691.3 418.5,691.8 419.5,692.5 420.5,693.3 421.5,694.2 422.5,695.1 423.5,696.1 424.5,696.9 425.5,697.4 426.5,692.8 427.5,686.5 428.5,680.0 429.5,673.4 430.5,667.2 431.5,661.5 432.5,656.6 433.5,652.7 434.5,650.1 435.5,649.0 436.5,649.3 437.5,651.0 438.5,654.1 439.5,658.4 440.5,657.9 441.5,655.5 442.5,654.5 443.5,654.7 444.5,656.3 445.5,659.1 446.5,663.0 447.5,667.8 448.5,673.3 449.5,679.1 450.5,678.8 451.5,676.1 452.5,673.2 453.5,670.3 454.5,667.8 455.5,665.8 456.5,664.6 457.5,664.4 458.5,665.1 459.5,666.7 460.5,669.0 461.5,671.7 462.5,665.4 463.5,658.5 464.5,652.2 465.5,646.6 466.5,642.0 467.5,638.7 468.5,636.8 469.5,636.3 470.5,637.4 471.5,639.9 472.5,643.7 473.5,648.7 474.5,654.6 475.5,661.2 476.5,665.5 477.5,657.5 478.5,649.7 479.5,642.4 480.5,635.9 481.5,630.4 482.5,626.2 483.5,623.5 484.5,622.3 485.5,622.8 486.5,624.9 487.5,628.6 488.5,633.6 489.5,639.7 490.5,646.7 491.5,654.3 492.5,662.3 493.5,670.3 494.5,678.1 495.5,685.5 496.5,689.6 497.5,690.2 498.5,691.2 499.5,692.5 500.5,693.9 501.5,695.4 502.5,694.8 503.5,688.5 504.5,681.6 505.5,674.3 506.5,666.7 507.5,659.0 508.5,651.4 509.5,644.2 510.5,637.6 511.5,631.8 512.5,627.1 513.5,623.7 514.5,621.6 515.5,621.0 516.5,621.9 517.5,624.3 518.5,628.0 519.5,632.9 520.5,638.9 521.5,645.6 522.5,652.9 523.5,660.5 524.5,668.2 525.5,675.8 526.5,683.0 527.5,689.8 528.5,690.5 529.5,688.8 530.5,687.5 531.5,686.5 532.5,681.6 533.5,676.0 534.5,670.4 535.5,665.0 536.5,660.0 537.5,655.6 538.5,651.9 539.5,649.0 540.5,647.0 541.5,646.1 542.5,646.2 543.5,647.3 544.5,649.5 545.5,652.6 546.5,656.5 547.5,661.0 548.5,666.1 549.5,671.5 550.5,677.1 551.5,680.8 552.5,680.5 553.5,680.5 554.5,680.8 555.5,681.4 556.5,682.1 557.5,683.1 558.5,684.2 559.5,685.3 560.5,686.4 561.5,687.6 562.5,687.3 563.5,681.0 564.5,674.3 565.5,667.4 566.5,660.4 567.5,653.5 568.5,646.8 569.5,640.6 570.5,634.9 571.5,630.0 572.5,626.1 573.5,623.2 574.5,621.5 575.5,621.0 576.5,621.7 577.5,623.7 578.5,626.8 579.5,630.9 580.5,636.0 581.5,641.8 582.5,648.1 583.5,654.9 584.5,661.8 585.5,667.2 586.5,664.5 587.5,662.3 588.5,660.8 589.5,660.1 590.5,660.1 591.5,660.8 592.5,662.3 593.5,664.5 594.5,667.2 595.5,670.5 596.5,674.2 597.5,678.2 598.5,682.5 599.5,686.8 600.5,691.1 601.5,695.4 602.5,699.4 603.5,699.2 604.5,698.8 605.5,698.3 606.5,697.6 607.5,696.8 608.5,695.8 609.5,694.6 610.5,693.2 611.5,691.6 612.5,689.8 613.5,687.8 614.5,685.7 615.5,683.5 616.5,681.3 617.5,679.0 618.5,676.8 619.5,674.7 620.5,672.8 621.5,671.0 622.5,669.6 623.5,668.4 624.5,667.5 625.5,666.9 626.5,666.7 627.5,666.7 628.5,667.1 629.5,667.8 630.5,668.8 631.5,670.1 632.5,671.8 633.5,673.7 634.5,675.8 635.5,678.0 636.5,680.1 637.5,682.2 638.5,684.1 639.5,685.7 640.5,687.0 641.5,687.9 642.5,688.4 643.5,688.5 644.5,688.2 645.5,687.6 646.5,686.6 647.5,685.3 648.5,683.8 649.5,682.1 650.5,680.2 651.5,678.3 652.5,675.6 653.5,672.1 654.5,668.6 655.5,665.1 656.5,661.6 657.5,658.3 658.5,655.1 659.5,652.2 660.0,650.8 662.3,644.7 672.0,665.0 685.0,690.0 696.8,657.9 699.6,612.8 706.6,564.8 716.5,529.6 723.5,542.3 730.6,576.0 736.2,607.0 741.9,641.0 747.5,657.9 756.0,662.0 765.4,657.9 768.2,635.3 775.2,584.6 780.9,542.3 785.1,500.0 794.3,451.6 806.3,359.0 816.6,324.6 825.9,310.2 834.8,321.2 849.2,352.0 866.4,389.0 878.4,399.4 890.4,389.0 904.1,345.2 916.1,280.0 928.5,177.0 938.3,41.0 946.0,-150.0 1000.0,-150.0 999.5,458.5 982.5,496.0 963.5,526.3 949.6,570.0 935.3,614.6 922.6,654.4 905.0,638.0 890.7,624.0 878.8,622.0 868.0,630.0 857.5,645.0 845.0,665.0 832.0,692.0 815.0,705.0 800.0,715.0 760.0,725.0 119.5,728.5"/>
<polygon fill="#ffff00" fill-opacity="0.3" points="119.5,600.0 120.1,597.0 122.7,593.0 125.3,597.0 127.9,612.7 130.4,633.0 133.5,597.0 136.9,628.0 140.7,617.8 145.9,607.5 149.7,617.8 153.6,571.5 157.5,543.0 160.8,553.5 163.9,544.5 167.8,597.0 170.3,633.0 174.2,566.0 178.0,574.0 182.4,567.6 185.8,565.0 189.6,570.0 193.5,589.5 195.5,605.0 198.0,635.0 203.0,640.0 206.5,615.0 209.0,595.0 212.8,571.5 216.7,562.5 220.5,575.3 224.4,566.3 229.5,597.2 234.7,615.2 238.5,576.6 242.4,551.0 245.1,571.5 249.0,610.0 252.9,597.2 256.7,579.2 261.9,566.3 265.7,605.0 269.6,584.3 273.5,563.8 276.0,553.5 279.9,571.5 283.8,575.3 287.6,576.6 290.0,578.0 292.5,605.0 294.5,612.0 296.5,565.0 298.5,545.0 303.1,535.4 306.9,558.6 310.8,571.5 314.6,581.8 318.5,594.6 322.4,605.0 327.5,602.4 332.7,584.3 337.8,576.6 341.7,558.6 345.5,548.3 349.4,545.7 353.3,584.3 357.1,610.0 361.0,612.7 364.8,605.0 368.9,594.6 372.7,589.5 377.9,594.6 383.0,581.8 388.2,597.2 393.3,589.5 397.2,580.0 402.3,587.0 406.2,579.2 411.3,557.3 415.2,584.3 420.3,602.4 425.5,617.8 430.6,607.5 434.5,597.2 439.6,602.4 444.8,605.0 449.9,610.0 455.1,602.4 460.2,587.0 465.4,576.6 470.5,592.0 475.7,617.8 480.8,633.3 484.7,630.0 488.6,633.3 493.9,623.0 497.7,597.2 501.6,584.3 505.4,579.2 509.3,587.0 513.2,592.0 517.0,590.8 520.9,602.4 524.7,615.2 528.6,626.8 533.8,612.7 540.2,605.0 547.9,597.2 554.3,605.0 559.5,610.0 564.6,621.7 569.8,620.4 574.9,597.2 581.4,579.2 587.8,563.8 594.2,553.5 600.7,563.8 605.8,553.5 611.0,552.2 615.6,545.7 619.2,559.2 622.9,552.2 627.7,559.2 631.9,573.3 637.6,566.3 643.2,579.0 650.2,584.6 656.7,593.0 662.9,587.4 670.0,590.2 675.6,576.1 682.7,567.7 689.7,560.6 695.3,553.6 701.0,556.4 706.6,564.8 710.9,573.3 715.1,581.8 722.1,597.3 729.0,585.0 736.2,573.3 744.7,562.0 753.1,553.6 765.4,542.3 775.2,534.4 782.3,542.3 790.7,529.6 799.2,548.0 807.7,560.6 816.1,563.4 824.6,574.7 830.2,574.7 837.3,576.1 844.3,573.3 852.8,577.5 865.0,583.0 870.0,586.0 878.8,596.3 890.7,587.5 904.2,586.0 917.8,605.0 935.3,614.6 948.0,617.0 959.2,615.0 981.5,606.0 999.5,587.5 999.5,728.5 119.5,728.5"/>
<path fill="none" stroke="#0000ff" stroke-width="1.7" stroke-linejoin="round" d="M119.5,725.0C119.7,725.0 119.0,725.7 120.8,725.1C122.5,724.5 126.6,721.5 130.0,721.5C133.4,721.5 137.9,725.4 141.0,725.1C144.1,724.8 146.0,719.6 148.4,719.6C150.8,719.6 153.2,724.5 155.7,725.1C158.1,725.7 160.0,724.8 163.1,723.3C166.2,721.8 171.0,715.7 174.1,716.0C177.2,716.3 178.4,723.6 181.5,725.1C184.6,726.6 188.8,725.1 192.5,725.1C196.2,725.1 199.8,725.7 203.5,725.1C207.2,724.5 210.2,723.6 214.5,721.5C218.8,719.4 225.5,711.7 229.2,712.3C232.9,712.9 233.5,723.6 236.6,725.1C239.7,726.6 244.5,721.7 247.6,721.5C250.7,721.3 252.7,723.3 255.0,723.9C257.3,724.5 259.0,725.2 261.6,725.0C264.2,724.8 267.8,723.7 270.4,722.8C273.0,721.9 274.7,722.2 277.1,719.4C279.5,716.6 282.6,705.8 284.8,706.2C287.0,706.6 288.1,722.6 290.3,721.7C292.5,720.8 295.8,700.7 298.0,700.7C300.2,700.7 301.6,718.6 303.6,721.7C305.6,724.8 308.2,719.0 310.2,719.4C312.2,719.8 313.7,726.5 315.7,723.9C317.7,721.3 319.9,703.8 322.3,704.0C324.7,704.2 327.2,724.6 330.0,725.0C332.8,725.4 336.0,706.9 338.8,706.2C341.6,705.5 344.4,718.0 346.6,720.6C348.8,723.2 349.9,721.0 352.1,721.7C354.3,722.4 356.9,726.5 359.8,725.0C362.7,723.5 366.6,713.2 369.7,712.8C372.8,712.4 375.7,721.3 378.6,722.8C381.6,724.3 384.5,722.8 387.4,721.7C390.3,720.6 394.1,716.9 396.2,716.0C398.3,715.1 398.5,715.5 400.0,716.6C401.5,717.7 403.2,722.9 405.1,722.6C407.0,722.3 409.1,717.5 411.1,714.9C413.1,712.2 415.5,707.6 417.2,706.7C418.9,705.8 419.7,707.8 421.4,709.7C423.1,711.6 425.0,716.1 427.4,718.3C429.8,720.4 433.1,721.7 436.0,722.6C438.9,723.5 441.5,723.6 444.6,723.5C447.8,723.4 451.6,721.9 454.9,721.7C458.2,721.6 461.6,723.9 464.3,722.6C467.0,721.3 468.6,718.3 471.2,714.0C473.8,709.7 477.7,700.6 480.0,697.0C482.3,693.4 483.2,692.2 485.1,692.6C487.0,693.0 489.1,696.1 491.1,699.5C493.1,702.9 494.8,709.2 497.2,713.2C499.6,717.2 503.1,722.6 505.7,723.5C508.3,724.4 510.3,720.7 512.6,718.3C514.9,715.9 517.4,710.2 519.5,708.9C521.6,707.6 523.5,708.9 525.5,710.6C527.5,712.3 529.1,716.6 531.5,719.2C533.9,721.8 537.1,725.6 540.0,726.0C542.9,726.4 546.0,722.8 548.6,721.7C551.2,720.6 553.6,719.5 555.5,719.2C557.4,718.9 557.8,719.4 560.0,720.0C562.2,720.6 565.7,722.6 568.6,722.6C571.5,722.6 574.4,721.1 577.2,720.0C580.1,718.9 582.9,716.3 585.7,716.2C588.6,716.1 591.4,718.2 594.3,719.2C597.2,720.2 600.0,722.2 602.9,722.2C605.8,722.2 608.6,721.0 611.5,719.2C614.4,717.4 617.4,713.3 620.0,711.5C622.6,709.7 624.8,708.6 626.9,708.5C629.0,708.4 630.7,709.0 632.9,710.6C635.1,712.2 636.7,715.8 640.0,718.0C643.3,720.2 646.4,724.3 652.8,723.6C659.2,722.9 670.3,714.3 678.3,714.0C686.3,713.7 694.5,721.9 700.6,722.0C706.7,722.1 710.2,718.4 715.0,714.8C719.8,711.2 724.8,703.7 729.3,700.5C733.8,697.3 737.0,695.8 742.1,695.7C747.2,695.6 755.1,698.9 760.0,700.0C764.9,701.1 767.5,703.1 771.3,702.4C775.1,701.7 778.4,699.7 782.6,696.0C786.8,692.3 791.1,686.1 796.7,680.4C802.3,674.7 811.5,665.6 816.4,662.0C821.3,658.4 823.0,658.8 826.3,658.7C829.6,658.6 832.6,659.6 836.1,661.3C839.6,663.0 842.2,664.2 847.4,669.0C852.6,673.8 861.9,686.1 867.1,690.3C872.3,694.5 874.6,694.1 878.4,694.0C882.2,693.9 885.5,693.6 889.7,689.7C893.9,685.8 899.1,679.7 903.8,670.6C908.5,661.5 912.7,651.5 917.9,635.3C923.1,619.1 928.7,595.8 934.8,573.3C940.9,550.8 949.3,519.1 954.5,500.0C959.7,480.9 961.2,475.2 966.0,458.5C970.8,441.8 977.4,417.1 983.0,400.0C988.6,382.9 996.8,363.3 999.5,356.0"/>
<path fill="none" stroke="#00ff00" stroke-width="1.7" stroke-linejoin="round" d="M119.5,714.0C119.7,714.0 119.3,714.4 120.8,714.1C122.2,713.8 126.0,711.1 128.2,712.3C130.3,713.5 131.6,722.7 133.7,721.5C135.8,720.3 138.6,704.9 141.0,704.9C143.4,704.9 145.5,723.3 148.4,721.5C151.3,719.7 155.8,694.2 158.5,693.9C161.2,693.6 162.6,719.3 164.9,719.6C167.2,719.9 169.9,695.7 172.3,695.7C174.8,695.7 176.2,715.6 179.6,719.6C183.0,723.6 188.8,724.5 192.5,719.6C196.2,714.7 199.2,690.2 201.7,690.2C204.1,690.2 205.2,719.3 207.2,719.6C209.2,719.9 211.6,695.2 213.6,692.1C215.6,689.0 216.8,696.4 219.1,701.3C221.4,706.2 224.5,718.5 227.4,721.5C230.3,724.5 233.2,721.1 236.6,719.6C240.0,718.1 244.5,712.3 247.6,712.3C250.7,712.3 252.7,717.8 255.0,719.4C257.3,721.0 258.7,721.3 261.6,721.7C264.6,722.1 269.4,722.3 272.7,721.7C276.0,721.1 278.9,718.7 281.5,718.3C284.1,717.9 285.9,719.9 288.1,719.4C290.3,718.9 292.1,714.6 294.7,715.0C297.3,715.4 300.7,723.0 303.6,721.7C306.6,720.4 310.2,710.6 312.4,707.3C314.6,704.0 315.0,701.6 316.8,701.8C318.6,702.0 321.2,705.1 323.4,708.4C325.6,711.7 327.4,719.3 330.0,721.7C332.6,724.1 336.2,723.7 338.8,722.8C341.4,721.9 343.2,718.1 345.4,716.1C347.6,714.1 350.1,711.0 352.1,710.6C354.1,710.2 355.4,716.3 357.6,713.9C359.8,711.5 362.9,697.2 365.3,696.3C367.7,695.4 369.7,704.5 371.9,708.4C374.1,712.2 376.2,718.5 378.6,719.4C381.0,720.3 384.1,716.1 386.3,713.9C388.5,711.7 390.0,711.2 391.8,706.2C393.6,701.2 395.6,688.0 397.0,684.0C398.4,680.0 398.8,679.9 400.0,682.3C401.2,684.7 402.9,693.2 404.3,698.6C405.7,704.0 406.5,711.6 408.6,714.9C410.8,718.2 414.6,717.6 417.2,718.3C419.8,719.0 421.1,719.9 424.0,719.2C426.9,718.5 431.6,714.5 434.3,714.0C437.0,713.5 438.3,717.2 440.3,716.2C442.3,715.2 444.4,711.4 446.3,708.0C448.2,704.6 449.9,698.9 451.5,696.0C453.1,693.1 454.3,691.2 455.7,690.9C457.1,690.6 458.4,692.0 460.0,694.3C461.6,696.6 463.3,701.5 465.2,704.6C467.1,707.8 468.7,711.4 471.2,713.2C473.7,715.1 477.4,715.3 480.0,715.7C482.6,716.1 484.3,717.0 486.9,715.7C489.5,714.4 492.3,711.0 495.4,708.0C498.5,705.0 502.6,699.0 505.7,697.7C508.8,696.4 511.4,698.4 514.3,700.3C517.2,702.2 520.0,707.6 522.9,708.9C525.8,710.2 528.4,708.9 531.5,708.0C534.6,707.1 538.6,703.6 541.7,703.7C544.8,703.9 547.2,706.8 550.3,708.9C553.3,711.0 557.0,714.5 560.0,716.4C563.0,718.2 565.7,719.1 568.6,720.0C571.5,720.9 574.4,721.6 577.2,721.7C580.1,721.8 582.9,721.2 585.7,720.5C588.6,719.8 591.4,718.5 594.3,717.5C597.2,716.5 600.0,715.3 602.9,714.5C605.8,713.7 608.6,712.9 611.5,712.7C614.4,712.6 617.1,713.6 620.0,713.6C622.9,713.6 625.3,714.4 628.6,713.0C631.9,711.6 634.6,707.4 640.0,705.3C645.4,703.2 652.7,700.0 660.7,700.5C668.7,701.0 679.3,705.6 687.8,708.5C696.3,711.4 704.3,715.6 711.8,718.0C719.2,720.4 724.5,722.7 732.5,722.8C740.5,722.9 752.6,719.5 760.0,718.5C767.4,717.5 769.5,716.6 777.0,717.0C784.5,717.4 796.1,720.8 805.0,720.7C813.9,720.6 822.5,718.5 830.5,716.5C838.5,714.5 845.0,710.8 853.0,708.6C861.0,706.4 871.4,704.1 878.4,703.5C885.4,702.9 888.7,703.9 895.3,705.0C901.9,706.1 908.5,708.2 917.9,710.0C927.3,711.8 942.3,714.8 951.7,715.7C961.1,716.7 966.3,716.9 974.3,715.7C982.3,714.5 995.3,709.8 999.5,708.6"/>
<path fill="none" stroke="#993300" stroke-width="1.7" stroke-linejoin="round" d="M119.5,720.0C119.7,719.9 119.7,720.6 120.8,719.6C121.9,718.6 123.5,714.1 126.3,714.1C129.1,714.1 133.7,719.3 137.4,719.6C141.1,719.9 143.8,716.8 148.4,716.0C153.0,715.2 160.6,714.4 164.9,715.0C169.2,715.6 170.1,719.4 174.1,719.6C178.1,719.8 184.8,716.3 188.8,716.0C192.8,715.7 194.6,719.3 198.0,717.8C201.4,716.3 205.9,707.1 209.0,706.8C212.1,706.5 214.2,714.8 216.4,716.0C218.6,717.2 219.8,715.3 221.9,714.1C224.0,712.9 226.8,707.7 229.2,708.6C231.6,709.5 233.8,719.6 236.6,719.6C239.4,719.6 243.6,709.9 245.8,708.6C248.0,707.3 248.5,710.9 250.0,712.0C251.5,713.1 253.4,714.7 255.0,715.0C256.6,715.3 257.6,713.0 259.4,713.9C261.2,714.8 263.8,719.5 266.0,720.6C268.2,721.7 270.5,720.6 272.7,720.6C274.9,720.6 277.1,725.9 279.3,720.6C281.5,715.3 283.9,690.8 285.9,688.6C287.9,686.4 289.6,705.3 291.4,707.3C293.2,709.3 295.1,699.2 296.9,700.7C298.7,702.2 300.4,721.4 302.4,716.1C304.4,710.8 307.1,670.4 309.1,668.7C311.1,667.1 313.1,697.8 314.6,706.2C316.1,714.7 316.2,722.1 317.9,719.4C319.5,716.6 322.5,692.9 324.5,689.7C326.5,686.5 328.4,698.1 330.0,700.1C331.6,702.1 332.2,698.2 334.4,701.8C336.6,705.4 340.4,721.2 343.2,721.7C346.0,722.2 348.6,706.2 351.0,705.1C353.4,704.0 354.9,718.7 357.6,715.0C360.4,711.3 364.8,685.2 367.5,683.0C370.2,680.8 371.9,696.1 374.1,701.8C376.3,707.5 378.4,713.5 380.8,717.2C383.2,720.9 385.9,723.4 388.5,723.9C391.1,724.4 394.3,720.9 396.2,720.0C398.1,719.1 398.4,719.2 400.0,718.3C401.6,717.4 403.9,714.8 406.0,714.5C408.1,714.2 410.2,718.7 412.9,716.6C415.6,714.5 419.9,705.1 422.3,702.0C424.7,698.9 425.4,696.4 427.4,697.7C429.4,699.0 431.7,705.6 434.3,709.7C436.9,713.9 439.8,720.9 442.9,722.6C446.0,724.3 449.5,723.0 453.2,720.0C456.9,717.0 461.5,705.9 465.2,704.6C468.9,703.3 473.0,710.7 475.5,712.3C478.0,713.9 477.8,714.7 480.0,714.0C482.2,713.3 485.5,710.4 488.6,708.0C491.8,705.6 495.8,699.8 498.9,699.5C502.0,699.2 504.5,703.7 507.4,706.3C510.2,708.9 512.7,712.6 516.0,714.9C519.3,717.2 523.9,719.3 527.2,720.0C530.5,720.7 532.7,720.5 535.7,719.2C538.7,717.9 542.2,714.4 545.2,712.3C548.2,710.1 551.3,707.3 553.8,706.3C556.3,705.2 557.5,705.6 560.0,706.0C562.5,706.4 565.7,707.9 568.6,708.5C571.5,709.1 574.4,709.8 577.2,709.7C580.1,709.6 582.9,708.4 585.7,708.0C588.6,707.6 591.4,707.1 594.3,707.2C597.2,707.4 600.0,708.3 602.9,708.9C605.8,709.5 608.6,710.7 611.5,711.0C614.4,711.3 617.1,711.0 620.0,710.6C622.9,710.2 625.3,709.2 628.6,708.9C631.9,708.5 634.1,707.5 640.0,708.5C645.9,709.5 655.9,712.5 663.9,714.8C671.9,717.0 681.1,720.8 687.8,722.0C694.4,723.2 698.5,724.2 703.8,722.0C709.1,719.8 713.9,713.1 719.7,708.5C725.6,703.9 732.0,698.0 738.9,694.1C745.8,690.2 754.8,685.8 761.2,685.3C767.6,684.8 772.7,688.9 777.2,690.9C781.7,692.9 781.7,694.2 788.2,697.4C794.7,700.6 807.9,706.8 816.4,710.0C824.9,713.2 831.0,715.2 839.0,716.5C847.0,717.8 855.8,718.0 864.3,717.6C872.8,717.2 881.7,715.9 889.7,714.3C897.7,712.7 904.7,710.6 912.2,707.8C919.7,705.0 926.3,701.6 934.8,697.3C943.3,693.0 952.2,686.7 963.0,681.8C973.8,676.9 993.4,670.1 999.5,667.7"/>
<path fill="none" stroke="#ff00ff" stroke-width="1.7" stroke-linejoin="round" d="M119.5,722.0C119.7,721.9 119.0,721.9 120.8,721.5C122.5,721.1 127.2,719.3 130.0,719.6C132.8,719.9 134.3,724.5 137.4,723.3C140.5,722.1 145.4,713.8 148.4,712.3C151.4,710.8 153.2,716.2 155.7,714.1C158.1,712.0 161.2,698.5 163.1,699.4C164.9,700.3 164.7,716.2 166.8,719.6C169.0,723.0 172.9,721.7 176.0,719.6C179.1,717.5 182.3,706.8 185.1,706.8C187.8,706.8 190.1,724.8 192.5,719.6C194.9,714.4 197.7,678.0 199.8,675.5C201.9,673.0 203.5,697.2 205.3,704.9C207.2,712.6 208.8,720.3 210.9,721.5C213.1,722.7 215.8,712.6 218.2,712.3C220.6,712.0 223.0,723.0 225.6,719.6C228.2,716.2 231.4,692.1 233.8,692.1C236.2,692.1 237.4,719.3 240.3,719.6C243.2,719.9 248.9,697.2 251.3,693.9C253.8,690.6 253.8,695.4 255.0,699.6C256.2,703.9 256.7,718.7 258.3,719.4C259.9,720.1 262.9,704.0 264.9,704.0C266.9,704.0 268.5,717.6 270.4,719.4C272.2,721.2 274.1,716.6 276.0,715.0C277.9,713.4 279.5,709.1 281.5,709.5C283.5,709.9 285.7,720.9 288.1,717.2C290.5,713.5 293.6,689.6 295.8,687.4C298.0,685.2 299.8,698.9 301.3,704.0C302.8,709.1 302.9,717.6 304.7,718.3C306.5,719.0 310.0,708.8 312.4,708.4C314.8,708.0 316.8,715.2 319.0,716.1C321.2,717.0 323.8,716.3 325.6,713.9C327.4,711.5 328.0,701.8 330.0,701.8C332.0,701.8 335.5,712.6 337.7,713.9C339.9,715.2 341.0,707.8 343.2,709.5C345.4,711.2 348.4,723.4 351.0,723.9C353.6,724.4 356.3,713.2 358.7,712.8C361.1,712.4 362.7,724.5 365.3,721.7C367.9,719.0 371.9,699.6 374.1,696.3C376.3,693.0 376.8,697.4 378.6,701.8C380.5,706.2 382.6,719.5 385.2,722.8C387.8,726.1 391.5,721.6 394.0,721.7C396.5,721.8 397.6,723.5 400.0,723.5C402.4,723.5 406.3,721.7 408.6,721.7C410.9,721.7 411.1,725.1 413.7,723.5C416.3,721.9 420.6,714.7 424.0,712.3C427.4,709.9 431.4,709.8 434.3,708.9C437.2,708.0 438.3,706.6 441.2,707.2C444.1,707.8 447.8,713.4 451.5,712.3C455.2,711.1 459.8,701.0 463.5,700.3C467.2,699.6 471.1,707.6 473.8,708.0C476.6,708.4 478.1,704.4 480.0,702.5C481.9,700.6 483.2,696.5 485.1,696.9C487.0,697.2 488.7,700.3 491.1,704.6C493.5,708.9 497.3,721.5 499.7,722.6C502.1,723.8 503.3,716.8 505.7,711.5C508.1,706.2 511.9,693.0 514.3,690.9C516.7,688.8 518.1,694.5 520.3,698.6C522.4,702.7 525.3,712.1 527.2,715.7C529.1,719.3 529.9,720.4 531.5,720.0C533.1,719.6 534.5,716.1 536.6,713.2C538.7,710.4 541.9,703.5 544.3,702.9C546.7,702.3 548.6,707.1 551.2,709.7C553.8,712.3 557.1,718.4 560.0,718.5C562.9,718.6 565.9,712.6 568.6,710.6C571.3,708.6 573.9,706.6 576.3,706.7C578.7,706.9 580.9,709.4 583.2,711.5C585.5,713.6 587.9,717.4 590.0,719.2C592.1,721.1 593.9,722.9 596.0,722.6C598.1,722.3 600.3,719.6 602.9,717.5C605.5,715.4 608.9,711.2 611.5,710.2C614.1,709.2 615.7,710.1 618.3,711.5C620.9,712.9 624.2,716.7 626.9,718.3C629.6,719.9 632.4,721.3 634.6,721.3C636.8,721.2 635.9,720.8 640.0,718.0C644.1,715.2 652.5,704.8 659.1,704.5C665.8,704.2 674.6,714.9 679.9,716.1C685.2,717.3 686.5,716.5 691.0,711.6C695.5,706.7 702.5,692.2 707.0,686.9C711.5,681.6 714.4,679.7 718.1,679.7C721.8,679.7 725.6,683.0 729.3,686.9C733.0,690.8 736.2,698.8 740.5,702.9C744.8,707.0 750.5,711.5 754.8,711.6C759.0,711.7 762.3,709.5 766.0,703.7C769.7,697.9 773.2,685.9 777.2,676.6C781.2,667.3 785.4,658.0 790.0,647.8C794.6,637.6 800.6,623.1 805.0,615.6C809.4,608.1 812.9,605.9 816.4,603.0C819.9,600.1 823.2,598.7 826.3,598.0C829.3,597.3 831.7,598.0 834.7,599.0C837.8,600.0 841.1,601.9 844.6,604.0C848.1,606.1 852.2,609.7 855.9,611.4C859.6,613.1 862.9,614.7 866.6,614.2C870.4,613.7 874.3,612.5 878.4,608.5C882.5,604.5 886.9,599.1 891.1,590.2C895.3,581.3 900.3,566.3 903.8,555.0C907.3,543.7 909.9,531.8 912.2,522.6C914.6,513.4 913.0,526.1 917.9,500.0C922.8,473.9 935.3,402.5 941.9,365.8C948.5,329.1 952.6,306.8 957.3,280.0C962.0,253.2 965.6,230.0 970.0,205.0C974.4,180.0 978.6,154.0 983.5,130.0C988.4,106.0 996.8,72.5 999.5,61.0"/>
<path fill="none" stroke="#ffff00" stroke-width="1.7" stroke-linejoin="round" d="M119.5,703.0C119.7,703.0 119.7,702.8 120.8,703.1C121.9,703.4 124.3,705.5 126.3,704.9C128.3,704.3 131.0,699.4 132.8,699.4C134.7,699.4 135.7,704.3 137.4,704.9C139.1,705.5 140.8,702.8 142.9,703.1C145.0,703.4 147.6,709.9 150.2,706.8C152.8,703.7 156.2,687.8 158.5,684.7C160.8,681.6 162.2,685.0 164.0,688.4C165.8,691.8 167.5,704.0 169.5,704.9C171.5,705.8 173.8,696.2 176.0,693.9C178.2,691.6 180.1,691.2 182.4,691.2C184.7,691.2 187.4,692.2 189.7,693.9C192.0,695.6 193.9,699.6 196.2,701.3C198.5,703.0 201.4,704.3 203.5,704.0C205.6,703.7 207.2,701.7 209.0,699.4C210.8,697.1 212.3,691.7 214.5,690.2C216.7,688.7 219.5,689.4 221.9,690.2C224.3,691.0 227.1,693.6 229.2,694.8C231.3,696.0 232.7,699.3 234.7,697.6C236.7,695.9 239.0,685.0 241.2,684.7C243.3,684.4 245.3,693.6 247.6,695.7C249.9,697.9 253.0,697.9 255.0,697.6C257.0,697.3 257.6,694.1 259.4,694.1C261.2,694.1 263.8,698.1 266.0,697.4C268.2,696.7 270.7,691.4 272.7,689.7C274.7,688.0 276.0,687.0 278.2,687.4C280.4,687.8 283.3,691.2 285.9,691.9C288.5,692.5 291.0,691.8 293.6,691.3C296.2,690.8 298.7,688.3 301.3,688.6C303.9,688.9 306.7,692.5 309.1,693.0C311.5,693.5 313.5,690.9 315.7,691.3C317.9,691.7 320.1,694.1 322.3,695.2C324.5,696.3 326.5,699.2 328.9,697.9C331.3,696.6 334.0,689.9 336.6,687.4C339.2,684.9 341.7,682.4 344.3,683.0C346.9,683.6 349.2,687.8 352.1,690.8C355.1,693.8 358.3,700.2 362.0,700.7C365.7,701.2 370.6,694.8 374.1,694.1C377.6,693.4 380.2,695.6 383.0,696.3C385.8,697.0 388.5,699.0 390.7,698.5C392.9,698.0 394.4,694.8 396.0,693.5C397.6,692.2 398.5,691.6 400.0,690.9C401.5,690.2 403.0,688.9 405.1,689.2C407.2,689.5 409.6,690.8 412.9,692.6C416.2,694.5 420.9,700.6 424.9,700.3C428.9,700.0 433.2,692.0 436.9,690.9C440.6,689.8 444.5,692.7 447.2,693.4C449.9,694.1 449.6,695.2 453.2,695.2C456.8,695.2 464.1,693.0 468.6,693.4C473.1,693.8 476.2,696.0 480.0,697.7C483.8,699.4 487.5,704.0 491.1,703.7C494.7,703.4 498.1,697.9 501.4,696.0C504.7,694.1 507.6,691.9 510.9,692.2C514.2,692.5 517.8,695.9 521.2,697.7C524.6,699.5 527.6,702.5 531.5,702.9C535.4,703.3 539.5,701.1 544.3,700.3C549.0,699.5 555.2,698.7 560.0,698.0C564.8,697.3 568.6,697.3 572.9,696.0C577.2,694.7 581.4,691.4 585.7,690.0C590.0,688.6 593.6,688.2 598.6,687.9C603.6,687.5 610.7,688.0 615.7,687.9C620.7,687.8 624.6,687.0 628.6,687.4C632.6,687.8 634.9,688.9 640.0,690.1C645.1,691.4 652.5,695.2 659.1,694.9C665.8,694.6 674.3,690.0 679.9,688.5C685.5,687.0 687.3,685.6 692.6,686.1C697.9,686.6 705.7,690.2 711.8,691.7C717.9,693.2 722.7,695.3 729.3,694.9C735.9,694.5 743.9,691.7 751.6,689.3C759.3,686.9 767.5,681.8 775.6,680.5C783.7,679.2 790.9,679.7 800.0,681.3C809.1,682.9 818.4,688.1 830.5,690.3C842.6,692.5 856.3,693.2 872.8,694.5C889.2,695.8 908.1,698.2 929.2,698.2C950.3,698.2 987.8,695.1 999.5,694.5"/>
</g>
<g stroke="#262626" stroke-width="1.2">
<line x1="325.8" y1="728" x2="325.8" y2="719"/><line x1="325.8" y1="41" x2="325.8" y2="50"/><line x1="482.2" y1="728" x2="482.2" y2="719"/><line x1="482.2" y1="41" x2="482.2" y2="50"/><line x1="638.6" y1="728" x2="638.6" y2="719"/><line x1="638.6" y1="41" x2="638.6" y2="50"/><line x1="845.4" y1="728" x2="845.4" y2="719"/><line x1="845.4" y1="41" x2="845.4" y2="50"/><line x1="210.5" y1="728" x2="210.5" y2="723.4"/><line x1="210.5" y1="41" x2="210.5" y2="45.6"/><line x1="275.4" y1="728" x2="275.4" y2="723.4"/><line x1="275.4" y1="41" x2="275.4" y2="45.6"/><line x1="366.9" y1="728" x2="366.9" y2="723.4"/><line x1="366.9" y1="41" x2="366.9" y2="45.6"/><line x1="401.7" y1="728" x2="401.7" y2="723.4"/><line x1="401.7" y1="41" x2="401.7" y2="45.6"/><line x1="431.8" y1="728" x2="431.8" y2="723.4"/><line x1="431.8" y1="41" x2="431.8" y2="45.6"/><line x1="458.4" y1="728" x2="458.4" y2="723.4"/><line x1="458.4" y1="41" x2="458.4" y2="45.6"/><line x1="730.1" y1="728" x2="730.1" y2="723.4"/><line x1="730.1" y1="41" x2="730.1" y2="45.6"/><line x1="795.0" y1="728" x2="795.0" y2="723.4"/><line x1="795.0" y1="41" x2="795.0" y2="45.6"/><line x1="886.5" y1="728" x2="886.5" y2="723.4"/><line x1="886.5" y1="41" x2="886.5" y2="45.6"/><line x1="921.3" y1="728" x2="921.3" y2="723.4"/><line x1="921.3" y1="41" x2="921.3" y2="45.6"/><line x1="951.4" y1="728" x2="951.4" y2="723.4"/><line x1="951.4" y1="41" x2="951.4" y2="45.6"/><line x1="978.0" y1="728" x2="978.0" y2="723.4"/><line x1="978.0" y1="41" x2="978.0" y2="45.6"/><line x1="119.5" y1="613.5" x2="128.5" y2="613.5"/><line x1="999.5" y1="613.5" x2="990.5" y2="613.5"/><line x1="119.5" y1="499.0" x2="128.5" y2="499.0"/><line x1="999.5" y1="499.0" x2="990.5" y2="499.0"/><line x1="119.5" y1="384.5" x2="128.5" y2="384.5"/><line x1="999.5" y1="384.5" x2="990.5" y2="384.5"/><line x1="119.5" y1="270.0" x2="128.5" y2="270.0"/><line x1="999.5" y1="270.0" x2="990.5" y2="270.0"/><line x1="119.5" y1="155.5" x2="128.5" y2="155.5"/><line x1="999.5" y1="155.5" x2="990.5" y2="155.5"/>
</g>
<rect x="119.5" y="41" width="880.0" height="687" fill="none" stroke="#262626" stroke-width="1.3"/>
<g font-size="29" stroke="#000" stroke-width="0.4">
<text x="106.8" y="738.8" text-anchor="end">0</text><text x="106.8" y="624.3" text-anchor="end">0.05</text><text x="106.8" y="509.8" text-anchor="end">0.1</text><text x="106.8" y="395.3" text-anchor="end">0.15</text><text x="106.8" y="280.8" text-anchor="end">0.2</text><text x="106.8" y="166.3" text-anchor="end">0.25</text><text x="106.8" y="51.8" text-anchor="end">0.3</text><text x="119.3" y="767.3" text-anchor="middle">2</text><text x="326.1" y="767.3" text-anchor="middle">5</text><text x="482.5" y="767.3" text-anchor="middle">10</text><text x="638.9" y="767.3" text-anchor="middle">20</text><text x="845.7" y="767.3" text-anchor="middle">50</text>
</g>
<text transform="translate(559.5,25.7) scale(1.03,1)" text-anchor="middle" font-size="31.4" font-weight="bold" stroke="#000" stroke-width="0.5">Power Spectra of MMMs</text>
<text x="559.3" y="804.7" text-anchor="middle" font-size="30" stroke="#000" stroke-width="0.4">Period (years)</text>
<text transform="translate(37,383.5) rotate(-90)" text-anchor="middle" font-size="31.4" stroke="#000" stroke-width="0.4">Power, ((mm/day)<tspan font-size="22" dy="-16.5">2</tspan><tspan dy="16.5">/frequency)</tspan></text>
<rect x="147.2" y="68" width="310.2" height="336.7" fill="#fff" stroke="#262626" stroke-width="1.2"/>
<g font-size="26" stroke="#000" stroke-width="0.3">
<rect x="158.3" y="77.4" width="85.4" height="23.2" fill="#0000ff" stroke="none"/><text x="252.3" y="98.4">95% CI ALL PS</text><rect x="158.3" y="110.2" width="85.4" height="23.2" fill="#00ff00" stroke="none"/><text x="252.3" y="131.2">95% CI GHG PS</text><rect x="158.3" y="142.9" width="85.4" height="23.2" fill="#993300" stroke="none"/><text x="252.3" y="163.9">95% CI NAT PS</text><rect x="158.3" y="175.7" width="85.4" height="23.2" fill="#ff00ff" stroke="none"/><text x="252.3" y="196.7">95% CI AA PS</text><rect x="158.3" y="208.4" width="85.4" height="23.2" fill="#ffff00" stroke="none"/><text x="252.3" y="229.4">95% CI piC PS</text><line x1="159" y1="252.8" x2="244" y2="252.8" stroke="#0000ff" stroke-width="1.6"/><text x="252.3" y="262.1">Mean ALL PS</text><line x1="159" y1="285.5" x2="244" y2="285.5" stroke="#00ff00" stroke-width="1.6"/><text x="252.3" y="294.9">Mean GHG PS</text><line x1="159" y1="318.2" x2="244" y2="318.2" stroke="#993300" stroke-width="1.6"/><text x="252.3" y="327.6">Mean NAT PS</text><line x1="159" y1="351.0" x2="244" y2="351.0" stroke="#ff00ff" stroke-width="1.6"/><text x="252.3" y="360.4">Mean AA PS</text><line x1="159" y1="383.8" x2="244" y2="383.8" stroke="#ffff00" stroke-width="1.6"/><text x="252.3" y="393.1">Mean piC PS</text>
</g>
</svg>
</body></html>
